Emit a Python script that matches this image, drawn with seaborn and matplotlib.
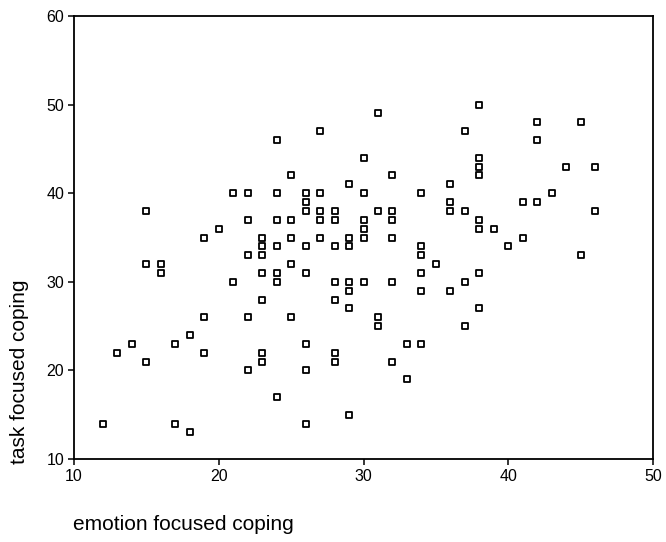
import matplotlib
matplotlib.use("Agg")
import matplotlib.pyplot as plt
import seaborn as sns
import pandas as pd

emotion_focused = [
    24, 27, 25, 29, 21, 22, 24, 26, 26, 26, 27, 27, 28, 15,
    38, 31, 42, 45, 37, 42, 30, 38, 38, 38, 44, 46, 32, 36, 30, 34, 43,
    36, 41, 42, 36, 37, 31, 32, 46,
    22, 24, 25, 27, 28, 30, 32, 38,
    20, 30, 38, 39,
    19, 23, 25, 27, 29, 30, 32, 41,
    23, 24, 26, 28, 29, 34, 40,
    22, 23, 34, 45,
    15, 16, 25, 35,
    16, 23, 24, 26, 34, 38,
    21, 24, 28, 29, 30, 32, 37,
    29, 34, 36,
    23, 28,
    29, 38,
    19, 22, 25, 31,
    31, 37,
    18,
    14, 17, 26, 33, 34,
    13, 19, 23, 28,
    15, 23, 28, 32,
    22, 26,
    33,
    24,
    29,
    12, 17, 26,
    18,
]
task_focused = [
    46, 47, 42, 41, 40, 40, 40, 40, 39, 38, 40, 38, 38, 38,
    50, 49, 48, 48, 47, 46, 44, 44, 43, 42, 43, 43, 42, 41, 40, 40, 40,
    39, 39, 39, 38, 38, 38, 38, 38,
    37, 37, 37, 37, 37, 37, 37, 37,
    36, 36, 36, 36,
    35, 35, 35, 35, 35, 35, 35, 35,
    34, 34, 34, 34, 34, 34, 34,
    33, 33, 33, 33,
    32, 32, 32, 32,
    31, 31, 31, 31, 31, 31,
    30, 30, 30, 30, 30, 30, 30,
    29, 29, 29,
    28, 28,
    27, 27,
    26, 26, 26, 26,
    25, 25,
    24,
    23, 23, 23, 23, 23,
    22, 22, 22, 22,
    21, 21, 21, 21,
    20, 20,
    19,
    17,
    15,
    14, 14, 14,
    13,
]
x_ticks = [10, 20, 30, 40, 50]
y_ticks = [10, 20, 30, 40, 50, 60]

df = pd.DataFrame({"emotion focused coping": emotion_focused,
                   "task focused coping": task_focused})

sns.set_theme(style="ticks")
plt.rcParams["font.family"] = ["Liberation Sans", "DejaVu Sans"]

fig = plt.figure(figsize=(6.66, 5.42), dpi=100)
ax = fig.add_axes([74 / 666, 1 - 459 / 542, (653 - 74) / 666, (459 - 16) / 542])

sns.scatterplot(data=df, x="emotion focused coping", y="task focused coping",
                marker="s", s=22, color="white", edgecolor="black",
                linewidth=1.3, ax=ax, zorder=3)

ax.set_xlim(10, 50)
ax.set_ylim(10, 60)
ax.set_xticks(x_ticks)
ax.set_yticks(y_ticks)
ax.set_xlabel("")
ax.set_ylabel("")
ax.tick_params(axis="both", direction="out", length=4, width=1.1,
               color="black", labelsize=11.5, labelcolor="black", pad=3)
for sp in ax.spines.values():
    sp.set_visible(True)
    sp.set_color("black")
    sp.set_linewidth(1.3)

fig.text(73 / 666, 1 - 524 / 542, "emotion focused coping", ha="left",
         va="center", fontsize=15, color="black")
fig.text(20 / 666, 1 - 372 / 542, "task focused coping", ha="center",
         va="center", rotation=90, fontsize=15, color="black")

fig.savefig("out.png", dpi=100, facecolor="white")
